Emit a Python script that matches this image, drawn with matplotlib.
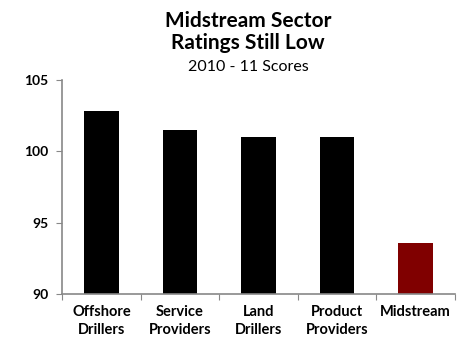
import numpy as np
import matplotlib.pyplot as plt

categories = ["Offshore\nDrillers", "Service\nProviders", "Land\nDrillers", "Product\nProviders", "Midstream"]
scores = [102.8, 101.5, 101.0, 101.0, 93.6]
colors = ["#000000", "#000000", "#000000", "#000000", "#800000"]
yticks = [90, 95, 100, 105]

plt.rcParams['font.family'] = ['Lato', 'DejaVu Sans']

fig = plt.figure(figsize=(4.64, 3.42), dpi=100)
ax = fig.add_axes([0.134, 0.140, 0.846, 0.626])

x = np.arange(len(categories))
ax.bar(x, scores, width=0.44, color=colors, bottom=0)
ax.set_xlim(-0.5, len(categories) - 0.5)
ax.set_ylim(90, 105)
ax.set_yticks(yticks)
ax.set_yticklabels([str(v) for v in yticks], fontweight='bold', fontsize=10)

# category labels between boundary ticks
ax.set_xticks(np.arange(-0.5, len(categories), 1.0))
ax.set_xticklabels([])
ax.set_xticks(x, minor=True)
ax.set_xticklabels(categories, minor=True, fontweight='bold', fontsize=10.5, linespacing=1.3)
ax.tick_params(axis='x', which='minor', length=0, pad=8)
ax.tick_params(axis='x', which='major', length=4, color='#888888', direction='out')
ax.tick_params(axis='y', length=4, color='#888888', direction='out', pad=6)

for s in ['top', 'right']:
    ax.spines[s].set_visible(False)
for s in ['left', 'bottom']:
    ax.spines[s].set_color('#888888')
    ax.spines[s].set_linewidth(1.2)

fig.text(0.535, 0.940, "Midstream Sector", ha='center', va='center', fontsize=15, fontweight='bold')
fig.text(0.535, 0.873, "Ratings Still Low", ha='center', va='center', fontsize=15, fontweight='bold')
fig.text(0.535, 0.803, "2010 - 11 Scores", ha='center', va='center', fontsize=11.5)

fig.savefig("out.png", dpi=100)
